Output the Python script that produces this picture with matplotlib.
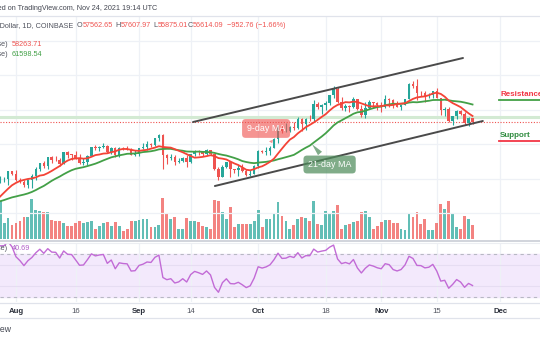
import numpy as np
import pandas as pd
import matplotlib
matplotlib.use('Agg')
import matplotlib.pyplot as plt
from matplotlib.lines import Line2D

plt.rcParams['font.family'] = ['Liberation Sans', 'DejaVu Sans']

# closes before the visible window (Jul 1 - Jul 27), only used to warm up MA / RSI
hist_close = [33540, 33810, 34660, 35290, 33700, 34220, 33860, 32880, 33810, 33520,
              34260, 33090, 32730, 32820, 31780, 31420, 31520, 31780, 30820, 29790,
              32140, 32290, 33640, 34250, 35410, 37290, 39460]

# daily candles, Jul 28 -> Nov 24 2021
first_open = 39460
close = [39990, 40020, 42210, 41460,
         39850, 39150, 38200, 39740, 40870, 42830, 44610, 43830, 46280, 45590,
         45550, 44430, 47820, 47100, 47050, 45950, 44700, 44800, 46720, 49340,
         48900, 49320, 49540, 47700, 48950, 46850, 49080, 48900, 48830, 47050, 47160,
         48850, 49280, 50030, 49940, 51770, 52660, 46860, 46070, 46370, 44850,
         45160, 46030, 44960, 47110, 48140, 47760, 47300, 48310, 47260, 43000,
         40690, 43560, 44890, 42840, 42720, 43200, 42220, 41030, 41520, 43790,
         48140, 47710, 48200, 49110, 51510, 55360, 53800, 53970, 54990, 54680,
         57480, 56040, 57370, 57350, 61670, 60880, 61530, 62010, 64280, 66000,
         62210, 60690, 61300, 60860, 63080, 60330, 58460, 60620, 62270, 61890, 61320,
         61000, 63220, 62940, 61450, 61010, 61530, 63300, 67550, 66940, 64880,
         64820, 64150, 64400, 65500, 63620, 60100, 60360, 56900, 58120, 59750,
         58700, 56300, 57562.65, 56614.09]
high = [40900, 40640, 42300, 42400,
        42600, 40420, 39780, 39950, 41380, 43390, 44700, 45310, 46450, 46700,
        46750, 46220, 47890, 48150, 47380, 48060, 47150, 46000, 47040, 49380,
        49770, 49500, 50500, 49870, 49230, 49360, 49170, 49300, 49630, 48880, 48460,
        49100, 50400, 51050, 50560, 51900, 52920, 52900, 47360, 47370, 47050,
        45990, 46450, 46880, 47250, 48470, 48490, 48150, 48820, 48370, 47340,
        43620, 44000, 44950, 45170, 42980, 43930, 44330, 42780, 42620, 44130,
        48490, 48360, 49200, 49500, 51890, 55750, 55330, 56100, 55450, 56550,
        57840, 57680, 57600, 58550, 62900, 62340, 61730, 62620, 64450, 67000,
        66640, 63730, 61750, 61480, 63700, 63290, 61450, 62440, 62950, 62320, 62440,
        62430, 64260, 63530, 63120, 62600, 61560, 63300, 67800, 68530, 69000,
        65580, 65500, 65000, 65550, 66330, 63620, 60840, 60990, 58380, 59880,
        60050, 59300, 57870, 57607.97]
low = [38800, 39200, 38320, 41100,
       39420, 38700, 37640, 37510, 37350, 39850, 42450, 43100, 42850, 44700,
       45360, 43800, 44240, 45980, 45550, 45690, 44400, 44200, 43950, 46660,
       48300, 48120, 49040, 47620, 47130, 46360, 46370, 48370, 48300, 46920, 46750,
       46600, 48610, 48400, 49420, 49520, 50970, 42850, 44410, 45500, 44180,
       44750, 44800, 43460, 44730, 46730, 47030, 46760, 47050, 46880, 42600,
       39600, 40580, 43100, 40680, 41660, 40800, 42100, 40930, 40790, 41440,
       43290, 47430, 47100, 46930, 49030, 50400, 53360, 53660, 53700, 54120,
       54440, 53880, 54280, 56830, 56860, 60170, 58980, 60020, 61370, 63500,
       62020, 60030, 59730, 59550, 60670, 59860, 58060, 57820, 60210, 60700, 59950,
       59440, 60630, 60990, 60700, 60730, 60100, 61370, 63300, 66320, 62800,
       64120, 62300, 63430, 63600, 63420, 58600, 58390, 56500, 55630, 57460,
       58500, 55650, 55400, 55875.01]
# volume in BTC
volume = [38000, 16000, 21000, 14000,
          16000, 18000, 22000, 22000, 40000, 29000, 28000, 27000, 27000, 19000,
          18000, 18000, 16000, 13000, 13000, 16000, 18000, 16000, 17000, 18000,
          10000, 13000, 16000, 17000, 13000, 17000, 13000, 8000, 10000, 18000,
          18000, 19000, 20000, 20000, 12000, 12000, 14000, 41000, 26000, 20000,
          22000, 10000, 10000, 21000, 18000, 18000, 17000, 13000, 12000, 10000,
          39000, 38000, 27000, 20000, 32000, 12000, 15000, 15000, 15000, 15000,
          18000, 29000, 12000, 20000,
          20000, 25000, 37000, 23000, 18000, 10000, 14000, 20000, 22000, 21000,
          18000, 38000, 15000, 14000, 28000, 25000, 28000, 34000, 10000, 14000,
          15000, 17000, 18000, 27000, 28000, 22000, 10000, 13000, 17000, 19000,
          19000, 16000, 16000, 10000, 9000, 25000, 22000, 27000, 15000, 20000,
          9000, 9000, 16000, 35000, 30000, 38000, 26000, 12000, 10000, 23000,
          20000, 14000]

ma9_label = '58263.71'
ma21_label = '61598.54'
rsi_label = '40.69'
change_label = '\u2212952.76 (\u22121.66%)'

# drawn objects on the chart (day from Aug 1, price)
upper_channel = [(44.6, 56520), (112.6, 75070)]
lower_channel = [(50.1, 37970), (117.6, 56810)]
resistance_level = 62900
support_level = 51000
zone_level = 57900

tick_dates = ['2021-08-01', '2021-08-16', '2021-09-01', '2021-09-14', '2021-10-01',
              '2021-10-18', '2021-11-01', '2021-11-15', '2021-12-01']
tick_labels = ['Aug', '16', 'Sep', '14', 'Oct', '18', 'Nov', '15', 'Dec']

GREEN = '#26a69a'
RED = '#ef5350'
GRID = '#eef1f6'
W, H = 540, 340

base = pd.Timestamp('2021-08-01')
dates = pd.date_range('2021-07-28', periods=len(close), freq='D')
x = np.array((dates - base).days, dtype=float)
close_a = np.array(close, dtype=float)
open_a = np.array([first_open] + close[:-1], dtype=float)
high_a = np.array(high, dtype=float)
low_a = np.array(low, dtype=float)
up = close_a >= open_a
colors = np.where(up, GREEN, RED)

# indicators (same as the TradingView studies: SMA 9, SMA 21, RSI 14)
all_close = pd.Series(hist_close + close, dtype=float)
ma9 = all_close.rolling(9).mean().values[-len(close):]
ma21 = all_close.rolling(21).mean().values[-len(close):]
delta = all_close.diff()
gain = delta.clip(lower=0).ewm(alpha=1 / 14, adjust=False).mean()
loss = (-delta.clip(upper=0)).ewm(alpha=1 / 14, adjust=False).mean()
rsi = (100 - 100 / (1 + gain / loss)).values[-len(close):]

tick_x = [(pd.Timestamp(d) - base).days for d in tick_dates]
xlim = (-4.03, 132.0)


def fy(py):
    return 1 - py / H


def fx(px):
    return px / W


fig = plt.figure(figsize=(5.4, 3.4), dpi=100)
fig.patch.set_facecolor('white')

# ---- volume pane (under the price pane) ----
ax_vol = fig.add_axes([0, fy(241), 1, fy(16) - fy(241)])
ax_vol.set_xlim(*xlim)
ax_vol.set_ylim(-2000, 223000)
for t in tick_x:
    ax_vol.axvline(t, color=GRID, lw=0.9, zorder=0)
ax_vol.bar(x, volume, width=0.72, color=colors, alpha=0.72, zorder=1)
ax_vol.axis('off')

# ---- price pane ----
ax = fig.add_axes([0, fy(241), 1, fy(16) - fy(241)], zorder=2)
ax.patch.set_alpha(0)
ax.set_xlim(*xlim)
ax.set_ylim(22029, 87246)
for p in range(30000, 90000, 10000):
    ax.axhline(p, color=GRID, lw=0.9, zorder=0)

ax.axhline(zone_level, color='#d3ead3', lw=2.2, zorder=1)
ax.axhline(close_a[-1], color=RED, lw=0.8, ls=(0, (1, 1.5)), zorder=1)

ax.vlines(x, low_a, high_a, colors=colors, lw=0.8, zorder=3)
body_h = np.maximum(np.abs(close_a - open_a), 80)
ax.bar(x, body_h, bottom=np.minimum(open_a, close_a), width=0.62,
       color=colors, zorder=3)

ax.plot(x, ma21, color='#43a047', lw=1.3, zorder=4)
ax.plot(x, ma9, color='#f44336', lw=1.3, zorder=4)

for line in (upper_channel, lower_channel):
    ax.plot([line[0][0], line[1][0]], [line[0][1], line[1][1]],
            color='#4a4a4a', lw=1.4, zorder=5, solid_capstyle='round')

# callouts
ax.annotate('9-day MA', xy=(64.8, 49600), xytext=(63.0, 54640),
            ha='center', va='center', fontsize=6.4, color='white', zorder=6,
            bbox=dict(boxstyle='round,pad=0.55,rounding_size=0.4', fc=RED,
                      ec='none', alpha=0.62),
            arrowprops=dict(arrowstyle='wedge,tail_width=0.5', fc=RED,
                            ec='none', alpha=0.62))
ax.annotate('21-day MA', xy=(74.1, 50700), xytext=(79.0, 44200),
            ha='center', va='center', fontsize=6.4, color='white', zorder=6,
            bbox=dict(boxstyle='round,pad=0.5,rounding_size=0.4', fc='#4f8d5c',
                      ec='none', alpha=0.72),
            arrowprops=dict(arrowstyle='wedge,tail_width=0.6', fc='#4f8d5c',
                            ec='none', alpha=0.72))

# resistance / support marks
ax.plot([121.7, 132], [resistance_level] * 2, color='#43a047', lw=1.3, zorder=5)
ax.text(122.0, resistance_level + 600, 'Resistance', color='#f23645',
        fontsize=5.8, fontweight='bold', va='bottom', ha='left', zorder=6)
ax.plot([121.7, 132], [support_level] * 2, color='#f23645', lw=1.3, zorder=5)
ax.text(122.0, support_level + 600, 'Support', color='#2e8b3e',
        fontsize=5.8, fontweight='bold', va='bottom', ha='left', zorder=6)
ax.axis('off')

# ---- RSI pane ----
ax_r = fig.add_axes([0, fy(302), 1, fy(243) - fy(302)])
ax_r.set_xlim(*xlim)
ax_r.set_ylim(25.3, 80.2)
ax_r.axhspan(30, 70, color='#f3e9fc', zorder=0)
for t in tick_x:
    ax_r.axvline(t, color=GRID, lw=0.9, zorder=0.5)
for lv in (40, 60):
    ax_r.axhline(lv, color='#e6ddf2', lw=0.8, zorder=0.5)
for lv in (30, 70):
    ax_r.axhline(lv, color='#b8b8c4', lw=0.8, ls=(0, (3, 3)), zorder=1)
ax_r.plot(x, rsi, color='#c26bd6', lw=1.0, zorder=2)
for s in ax_r.spines.values():
    s.set_visible(False)
ax_r.set_yticks([])
ax_r.set_xticks(tick_x)
ax_r.set_xticklabels(tick_labels, fontsize=5.6)
ax_r.tick_params(axis='x', length=0, pad=4.2)
for lab in ax_r.get_xticklabels():
    if lab.get_text().isalpha():
        lab.set_fontweight('bold')
        lab.set_color('#2a2e39')
    else:
        lab.set_color('#50535e')

# pane separators
for py, c, lw in [(16, '#e0e3eb', 0.9), (240.5, '#d1d4dc', 1.4),
                  (243, '#eceef2', 0.8), (302.5, '#e0e3eb', 0.9),
                  (318, '#e0e3eb', 0.9)]:
    fig.add_artist(Line2D([0, 1], [fy(py), fy(py)], color=c, lw=lw))

# ---- texts ----
txt = dict(fontsize=5.2, va='center')
fig.text(fx(157), fy(8), 'Published on TradingView.com, Nov 24, 2021 19:14 UTC',
         ha='right', color='#434651', **txt)
fig.text(fx(73), fy(25.5), 'Bitcoin / U.S. Dollar, 1D, COINBASE', ha='right',
         color='#50535e', **txt)
for letter, vx, val in [('O', 82.5, open_a[-1]), ('H', 121, high_a[-1]),
                        ('L', 158, low_a[-1]), ('C', 193, close_a[-1])]:
    fig.text(fx(vx - 0.3), fy(25.5), letter, ha='right', color='#50535e', **txt)
    fig.text(fx(vx), fy(25.5), f'{val:.2f}', ha='left', color=RED, **txt)
fig.text(fx(227), fy(25.5), change_label, ha='left', color=RED, **txt)

fig.text(fx(7.5), fy(45), 'MA (9, close)', ha='right', color='#50535e', **txt)
fig.text(fx(12), fy(45), ma9_label, ha='left', color=RED, **txt)
fig.text(fx(7.5), fy(55), 'MA (21, close)', ha='right', color='#50535e', **txt)
fig.text(fx(12), fy(55), ma21_label, ha='left', color='#43a047', **txt)
fig.text(fx(7.5), fy(248), 'RSI (14, close)', ha='right', color='#50535e', **txt)
fig.text(fx(12), fy(248), rsi_label, ha='left', color='#b05cc8', **txt)

fig.text(fx(12), fy(329), 'TradingView', ha='right', color='#434651',
         fontsize=6.2, va='center')

fig.savefig('out.png', dpi=100, facecolor='white')
